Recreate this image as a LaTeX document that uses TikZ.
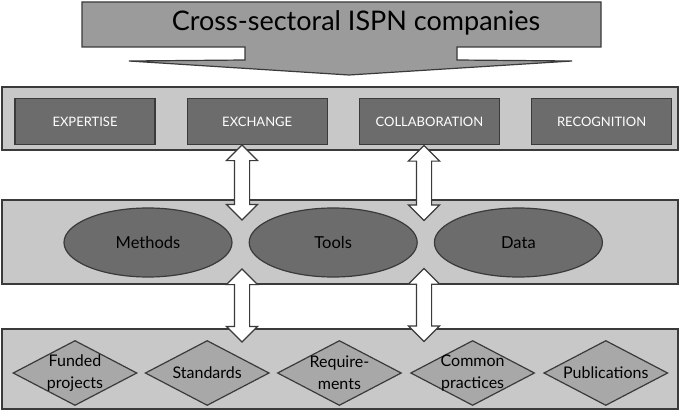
\documentclass[tikz,border=0pt]{standalone}
\usepackage{fontspec}
\setmainfont{Lato}
\usetikzlibrary{shapes.geometric,shapes.arrows,positioning}
\definecolor{edgegray}{RGB}{58,58,58}
\definecolor{headgray}{RGB}{155,155,155}
\definecolor{bandgray}{RGB}{200,200,200}
\definecolor{darkfill}{RGB}{108,108,108}
\definecolor{midfill}{RGB}{168,168,168}
\tikzset
{
    band/.style    = {rectangle, draw=edgegray, fill=bandgray, line width=1.2pt, minimum width=676pt, inner sep=0pt},
    topic/.style   = {rectangle, draw=edgegray, fill=darkfill, line width=1.2pt, text=white, minimum width=140pt, minimum height=46pt, inner sep=0pt, font=\fontsize{13}{15}\selectfont},
    asset/.style   = {ellipse, draw=edgegray, fill=darkfill, line width=1.2pt, minimum width=168pt, minimum height=69pt, inner sep=0pt, font=\fontsize{16.5}{20}\selectfont},
    output/.style  = {diamond, draw=edgegray, fill=midfill, line width=1.2pt, minimum width=124pt, minimum height=65pt, inner sep=0pt},
    outtext/.style = {align=center, inner sep=0pt, font=\fontsize{16}{22}\selectfont},
    link/.style    = {double arrow, draw=edgegray, fill=white, line width=1.2pt, shape border rotate=90, minimum width=30pt, double arrow head extend=8pt, inner sep=7pt}
}

\begin{document}
\begin{tikzpicture}[x=1pt, y=-1pt]
	\useasboundingbox (0,0) rectangle (680,412);
	\filldraw [draw=edgegray, fill=headgray, line width=1.2pt] (82,2) -- (601,2) -- (601,47) -- (457,47) -- (457,60) -- (572,61) -- (349,75) -- (129,61) -- (245,60) -- (245,47) -- (82,47) -- cycle;
	\node (title) [font=\fontsize{27}{32}\selectfont] at (356,23) {Cross-sectoral ISPN companies};

	\node (band1) [band, minimum height=63pt] at (340,118.5) {};
	\node (band2) [band, minimum height=84pt] at (340,242) {};
	\node (band3) [band, minimum height=80pt] at (340,369) {};

	\node (expt) [topic] at (85,121.5) {EXPERTISE};
	\node (exch) [topic, right=31pt of expt] {EXCHANGE};
	\node (coll) [topic, right=31pt of exch] {COLLABORATION};
	\node (reco) [topic, right=31pt of coll] {RECOGNITION};

	\node (meth) [asset] at (148,242.5) {Methods};
	\node (tool) [asset, right=16pt of meth] {Tools};
	\node (data) [asset, right=16pt of tool] {Data};

	\node (fund) [output] at (75,373) {};
	\node (stnd) [output, right=7pt of fund] {};
	\node (reqs) [output, right=7pt of stnd] {};
	\node (comm) [output, right=8pt of reqs] {};
	\node (publ) [output, right=8pt of comm] {};
	\node (fundtxt) [outtext] at (fund) {Funded\\projects};
	\node (stndtxt) [outtext] at (stnd) {Standards};
	\node (reqstxt) [outtext] at (reqs) {Require-\\ments};
	\node (commtxt) [outtext] at (comm) {Common\\practices};
	\node (publtxt) [outtext] at (publ) {Publications};

	\node (upl) [link, minimum height=75pt] at (242,182.5) {};
	\node (upr) [link, minimum height=75pt] at (424,183) {};
	\node (lowl) [link, minimum height=73pt] at (242,305.5) {};
	\node (lowr) [link, minimum height=73pt] at (424,305) {};
\end{tikzpicture}
\end{document}
